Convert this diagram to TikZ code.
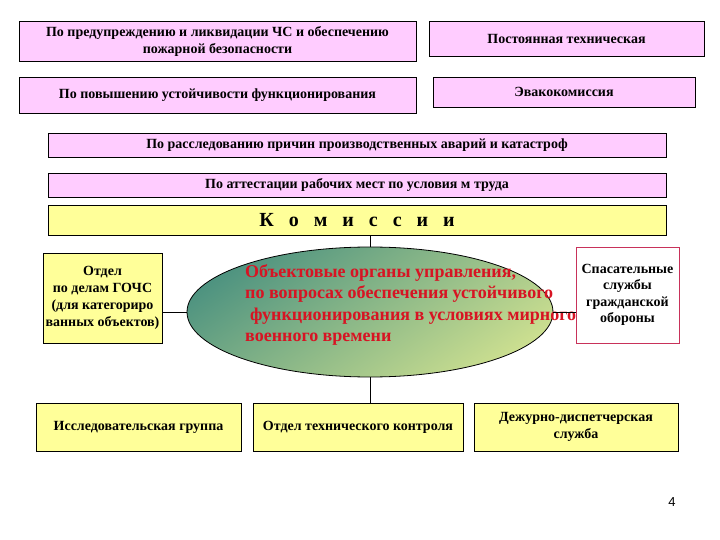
\documentclass[tikz,border=0pt]{standalone}
\usepackage{fontspec}
\setmainfont{Liberation Serif}
\setsansfont{Liberation Sans}
\usetikzlibrary{shapes.geometric,positioning}
\definecolor{boxpink}{RGB}{255,204,255}
\definecolor{boxyellow}{RGB}{255,255,153}
\definecolor{ovalteal}{RGB}{30,118,122}
\definecolor{ovalmid}{RGB}{135,188,148}
\definecolor{ovallight}{RGB}{252,252,150}
\definecolor{redtext}{RGB}{215,20,35}
\definecolor{spasline}{RGB}{200,50,90}

\begin{document}
\begin{tikzpicture}[
    x=1pt, y=-1pt,
    box/.style={draw=black, line width=0.9pt, inner sep=2pt, align=center,
        font=\fontsize{14}{17}\selectfont\bfseries},
    pinkbox/.style={box, fill=boxpink},
    yelbox/.style={box, fill=boxyellow},
    link/.style={draw, line width=0.8pt}
]
    \useasboundingbox (0,0) rectangle (720,540);

    % top commissions
    \node[pinkbox, minimum width=397pt, minimum height=40pt] (prev) at (217.5,41)
        {По предупреждению и ликвидации ЧС и обеспечению\\пожарной безопасности};
    \node[pinkbox, minimum width=275pt, minimum height=35pt] (post) at (566.5,38.5)
        {Постоянная техническая};
    \node[pinkbox, minimum width=397pt, minimum height=36pt] (povysh) at (217.5,95)
        {По повышению устойчивости функционирования};
    \node[pinkbox, minimum width=262pt, minimum height=30pt] (evak) at (564,92)
        {Эвакокомиссия};
    \node[pinkbox, minimum width=618pt, minimum height=24pt] (rassl) at (357,145)
        {По расследованию причин  производственных  аварий и катастроф};
    \node[pinkbox, minimum width=618pt, minimum height=24pt] (attest) at (357,185)
        {По аттестации рабочих мест по условия м труда};
    \node[yelbox, minimum width=618pt, minimum height=30pt,
        font=\fontsize{20}{24}\selectfont\bfseries] (kom) at (357,220)
        {\spaceskip=15pt К о м и с с и и};

    % centre: shade a square, clipped to the oval
    \begin{scope}
        \clip (370,312) ellipse [x radius=183pt, y radius=65pt];
        \shade[top color=ovalteal, middle color=ovalmid, bottom color=ovallight,
            shading angle=35] (165,107) rectangle (575,517);
    \end{scope}
    \node[ellipse, draw=black, line width=0.8pt, minimum width=366pt, minimum height=130pt,
        inner sep=0pt] (oval) at (370,312) {};
    \node[anchor=north west, align=left, text=redtext, inner sep=0pt,
        font=\fontsize{18}{21.5}\selectfont\bfseries] (ovaltxt) at (245,264)
        {Объектовые органы  управления,\\
         по вопросах обеспечения устойчивого\\
         \hspace{5pt}функционирования в условиях мирного\\
         военного времени};

    \node[yelbox, minimum width=119pt, minimum height=90pt,
        font=\fontsize{14}{17}\selectfont\bfseries] (gochs) at (102.5,298)
        {Отдел\\ по делам ГОЧС\\(для категориро\\ванных объектов)};
    \node[box, fill=white, draw=spasline, minimum width=103pt, minimum height=96pt,
        font=\fontsize{14}{16.5}\selectfont\bfseries] (spas) at (627.5,295)
        {Спасательные\\службы\\гражданской\\обороны};

    % bottom row
    \node[yelbox, minimum width=205pt, minimum height=48pt] (issl) at (138.5,427)
        {Исследовательская группа};
    \node[yelbox, minimum width=210pt, minimum height=48pt] (otk) at (358,427)
        {Отдел технического контроля};
    \node[yelbox, minimum width=204pt, minimum height=48pt] (dezh) at (576,427)
        {Дежурно-диспетчерская\\служба};

    \draw[link] (oval.north) -- (oval.north |- kom.south);
    \draw[link] (oval.south) -- (oval.south |- otk.north);
    \draw[link] (oval.west) -- (oval.west -| gochs.east);
    \draw[link] (oval.east) -- (oval.east -| spas.west);

    \node[font=\sffamily\fontsize{13}{15}\selectfont] (page) at (672,502) {4};
\end{tikzpicture}
\end{document}
